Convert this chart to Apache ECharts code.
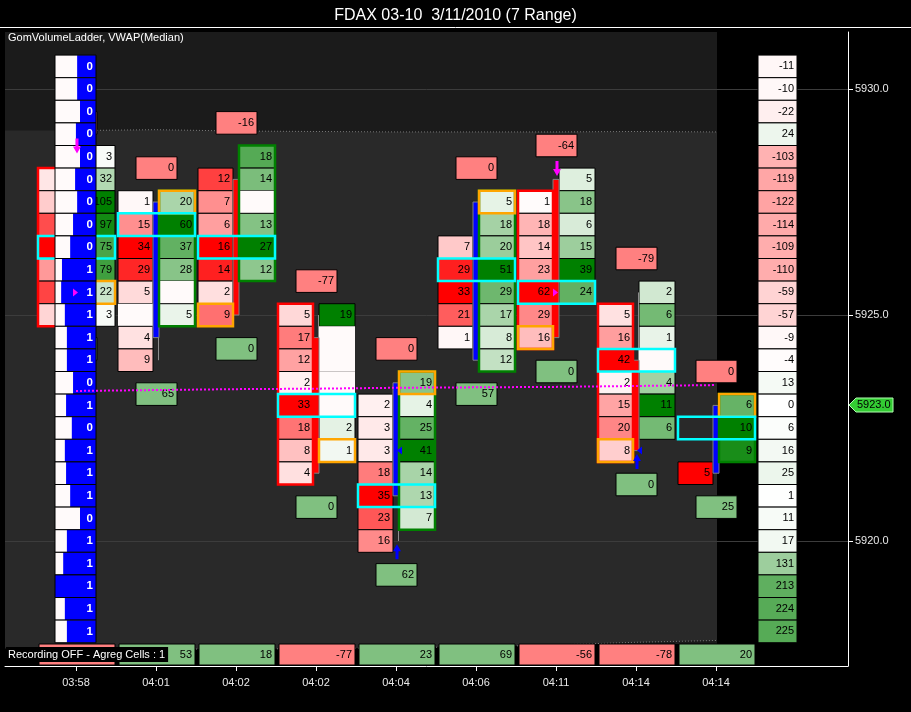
<!DOCTYPE html>
<html>
<head>
<meta charset="utf-8">
<title>FDAX 03-10 GomVolumeLadder</title>
<script src="https://cdn.jsdelivr.net/npm/echarts@6/dist/echarts.min.js"></script>
<style>
html, body { margin: 0; padding: 0; background: #000; }
#main { width: 911px; height: 712px; }
</style>
</head>
<body>
<div id="main"></div>
<script>
var times = ['03:58', '04:01', '04:02', '04:02', '04:04', '04:06', '04:11', '04:14', '04:14'];
var priceTicks = [5920, 5925, 5930];
var tick = 0.5;

// footprint: bid / ask volume per price row, from the top row down
var bidTop = [5928.0, 5927.5, 5928.0, 5925.0, 5923.0, 5926.5, 5927.5, 5925.0, 5921.5];
var bidVol = [
    [3, 6, 21, 30, 12, 22, 5],
    [1, 15, 34, 29, 5, 0, 4, 9],
    [12, 7, 6, 16, 14, 2, 9],
    [5, 17, 12, 2, 33, 18, 8, 4],
    [2, 3, 3, 18, 35, 23, 16],
    [7, 29, 33, 21, 1],
    [1, 18, 14, 23, 62, 29, 16],
    [5, 16, 42, 2, 15, 20, 8],
    [5]
];
var askTop = [5928.5, 5927.5, 5928.5, 5925.0, 5923.5, 5927.5, 5928.0, 5925.5, 5923.0];
var askVol = [
    [3, 32, 105, 97, 75, 79, 22, 3],
    [20, 60, 37, 28, 0, 5],
    [18, 14, 0, 13, 27, 12],
    [19, 0, 0, 0, 0, 2, 1],
    [19, 4, 25, 41, 14, 13, 7],
    [5, 18, 20, 51, 29, 17, 8, 12],
    [5, 18, 6, 15, 39, 24],
    [2, 6, 1, 0, 4, 11, 6],
    [6, 10, 9]
];
var pocPrice = [5926.5, 5927.0, 5926.5, 5923.0, 5921.0, 5926.0, 5925.5, 5924.0, 5922.5];
var hiliteSide = ['ask', 'ask', 'bid', 'ask', 'ask', 'ask', 'bid', 'bid', 'ask'];
var hilitePrice = [5925.5, 5927.5, 5925.0, 5922.0, 5923.5, 5927.5, 5924.5, 5922.0, 5923.0];
var frameSide = ['bid', 'ask', 'ask', 'bid', 'ask', 'ask', 'bid', 'bid', 'ask'];

var candleOpen = [5928.5, 5924.5, 5928.0, 5924.5, 5921.0, 5924.0, 5928.0, 5924.0, 5921.5];
var candleClose = [5925.0, 5927.5, 5925.0, 5921.5, 5923.5, 5927.5, 5924.5, 5922.0, 5923.0];
var candleHigh = [5928.5, 5927.5, 5928.5, 5925.0, 5923.5, 5927.5, 5928.0, 5925.5, 5923.0];
var candleLow = [5925.0, 5924.0, 5925.0, 5921.5, 5920.0, 5924.0, 5924.5, 5922.0, 5921.5];

var deltaHiPrice = [5929.25, 5928.25, 5929.25, 5925.75, 5924.25, 5928.25, 5928.75, 5926.25, 5923.75];
var deltaHi = [0, 0, -16, -77, 0, 0, -64, -79, 0];
var deltaLoPrice = [5924.25, 5923.25, 5924.25, 5920.75, 5919.25, 5923.25, 5923.75, 5921.25, 5920.75];
var deltaLo = [0, 65, 0, 0, 62, 57, 0, 0, 25];
var barDelta = [-30, 53, 18, -77, 23, 69, -56, -78, 20];

var vwap = [5923.32, 5923.34, 5923.36, 5923.37, 5923.39, 5923.40, 5923.41, 5923.43, 5923.45];
var bandUpper = [5929.08, 5929.10, 5929.07, 5929.06, 5929.05, 5929.05, 5929.05, 5929.06, 5929.05];
var bandLower = [5917.62, 5917.61, 5917.61, 5917.62, 5917.64, 5917.66, 5917.70, 5917.76, 5917.80];

// volume ladder drawn over the first bar
var ladderTop = 5930.5;
var ladderVol = [0, 0, 0, 0, 0, 0, 0, 0, 0, 1, 1, 1, 1, 1, 0, 1, 0, 1, 1, 1, 0, 1, 1, 1, 1, 1];
var ladderRatio = [0.46, 0.46, 0.39, 0.49, 0.39, 0.51, 0.46, 0.56, 0.63, 0.83, 0.85, 0.76, 0.71,
    0.71, 0.56, 0.73, 0.59, 0.76, 0.73, 0.63, 0.39, 0.71, 0.80, 1.0, 0.76, 0.71];

// delta profile on the right
var profileTop = 5930.5;
var profileDelta = [-11, -10, -22, 24, -103, -119, -122, -114, -109, -110, -59, -57, -9, -4,
    13, 0, 6, 16, 25, 1, 11, 17, 131, 213, 224, 225];
var profileScale = 340;
var lastPrice = 5923.0;

// signal markers
var arrowBar = [0, 6, 4, 7];
var arrowPrice = [5928.75, 5928.25, 5919.75, 5921.75];
var arrowUp = [false, false, true, true];
var triBar = [0, 6, 4, 7];
var triPrice = [5925.5, 5925.5, 5922.0, 5922.0];
var triRight = [true, true, false, false];

var FONT = '"Liberation Sans", Arial, sans-serif';

function mixRed(t) {
    var g = Math.round(255 * (1 - Math.min(t, 1)));
    return 'rgb(255,' + g + ',' + g + ')';
}
function mixGreen(t) {
    t = Math.min(t, 1);
    var r = Math.round(255 * (1 - t));
    var g = Math.round(255 * (1 - t) + 128 * t);
    return 'rgb(' + r + ',' + g + ',' + r + ')';
}
function rectEl(x0, y0, x1, y1, fill, stroke, lw) {
    return {
        type: 'rect',
        shape: { x: x0, y: y0, width: x1 - x0, height: y1 - y0 },
        style: { fill: fill, stroke: stroke || null, lineWidth: lw || 1 }
    };
}
function textEl(x, y, s, color, bold, size) {
    return {
        type: 'text',
        style: {
            x: x, y: y, text: String(s), fill: color || '#000',
            font: (bold ? 'bold ' : '') + (size || 11) + 'px ' + FONT,
            align: 'right', verticalAlign: 'middle'
        }
    };
}

function renderPanel(params, api) {
    var cs = params.coordSys;
    var left = cs.x, right = Math.round(api.coord([8, 0])[0]) + 1;
    var bottom = cs.y + cs.height - 22;
    var up = [[left, api.coord([0, bandUpper[0]])[1]]], lo = [];
    for (var i = 0; i < bandUpper.length; i++) {
        up.push(api.coord([i, bandUpper[i]]));
        lo.push(api.coord([i, bandLower[i]]));
    }
    up.push([right, up[up.length - 1][1]]);
    lo.unshift([left, lo[0][1]]);
    lo.push([right, lo[lo.length - 1][1]]);
    var poly = up.concat(lo.slice().reverse());
    var kids = [rectEl(left, cs.y, right, bottom, '#1b1b1b')];
    kids.push({ type: 'polygon', shape: { points: poly }, style: { fill: '#292929' } });
    priceTicks.forEach(function (p) {
        var y = Math.round(api.coord([0, p])[1]) + 0.5;
        kids.push({ type: 'line', shape: { x1: left, y1: y, x2: cs.x + cs.width, y2: y },
            style: { stroke: '#3c3c3c', lineWidth: 1 } });
    });
    kids.push({ type: 'polyline', shape: { points: up.slice(1) }, style: { stroke: '#7a7a7a', lineWidth: 1, lineDash: [1, 2], fill: null } });
    kids.push({ type: 'polyline', shape: { points: lo.slice(1) }, style: { stroke: '#7a7a7a', lineWidth: 1, lineDash: [1, 2], fill: null } });
    return { type: 'group', children: kids };
}

function renderBar(params, api) {
    var i = params.dataIndex;
    var cs = params.coordSys;
    var c = Math.round(api.coord([i, 0])[0]);
    var half = api.size([0, tick])[1] / 2;
    var y = function (p) { return api.coord([i, p])[1]; };
    var kids = [];
    var bx0 = c - 38, bx1 = c - 3, ax0 = c + 3, ax1 = c + 39;

    // delta boxes above and below the bar
    kids.push(rectEl(c - 20, y(deltaHiPrice[i]) - half, c + 21, y(deltaHiPrice[i]) + half, '#ff8080', '#000'));
    kids.push(textEl(c + 18, y(deltaHiPrice[i]), deltaHi[i]));
    kids.push(rectEl(c - 20, y(deltaLoPrice[i]) - half, c + 21, y(deltaLoPrice[i]) + half, '#80c080', '#000'));
    kids.push(textEl(c + 18, y(deltaLoPrice[i]), deltaLo[i]));

    function column(top, vols, x0, x1, mix) {
        var max = Math.max.apply(null, vols);
        vols.forEach(function (v, k) {
            var yc = y(top - k * tick);
            kids.push(rectEl(x0, yc - half, x1, yc + half, v ? mix(v / max) : '#fffafa', v ? '#000' : null));
            if (v) kids.push(textEl(x1 - 3, yc, v));
        });
    }
    column(bidTop[i], bidVol[i], bx0, bx1, mixRed);
    column(askTop[i], askVol[i], ax0, ax1, mixGreen);

    // candle
    kids.push({ type: 'line', shape: { x1: c + 2.5, y1: y(candleHigh[i]), x2: c + 2.5, y2: y(candleLow[i]) },
        style: { stroke: '#8c8c8c', lineWidth: 1 } });
    var yo = y(candleOpen[i]), yc2 = y(candleClose[i]);
    kids.push(rectEl(c - 3, Math.min(yo, yc2), c + 3, Math.max(yo, yc2),
        candleClose[i] < candleOpen[i] ? '#ff0000' : '#0000ff', '#808080'));

    // column frame
    if (frameSide[i] === 'bid') {
        kids.push(rectEl(bx0, y(bidTop[i]) - half, bx1,
            y(bidTop[i] - (bidVol[i].length - 1) * tick) + half, 'none', '#ff0000', 2.5));
    } else {
        kids.push(rectEl(ax0, y(askTop[i]) - half, ax1,
            y(askTop[i] - (askVol[i].length - 1) * tick) + half, 'none', '#008000', 2.5));
    }
    // highlighted cell
    var hy = y(hilitePrice[i]);
    if (hiliteSide[i] === 'bid') kids.push(rectEl(bx0, hy - half, bx1, hy + half, 'none', '#ffa500', 2.5));
    else kids.push(rectEl(ax0, hy - half, ax1, hy + half, 'none', '#ffa500', 2.5));
    // point of control
    var py = y(pocPrice[i]);
    kids.push(rectEl(bx0, py - half, ax1, py + half, 'none', '#00ffff', 2.5));

    // bar delta at the bottom
    var by = cs.y + cs.height;
    kids.push(rectEl(c - 37, by - 22, c + 39, by - 1, barDelta[i] < 0 ? '#ff8080' : '#80c080', '#000'));
    kids.push(textEl(c + 36, by - 11.5, barDelta[i]));
    return { type: 'group', children: kids };
}

function renderLadder(params, api) {
    var c = Math.round(api.coord([0, 0])[0]);
    var half = api.size([0, tick])[1] / 2;
    var x0 = c - 21, x1 = c + 20, kids = [];
    ladderVol.forEach(function (v, k) {
        var yc = api.coord([0, ladderTop - k * tick])[1];
        kids.push(rectEl(x0, yc - half, x1, yc + half, '#fffafa'));
        kids.push(rectEl(x1 - ladderRatio[k] * (x1 - x0), yc - half, x1, yc + half, '#0000ff'));
        kids.push(rectEl(x0, yc - half, x1, yc + half, 'none', '#000'));
        kids.push(textEl(x1 - 3, yc, v, '#fff', true, 11.5));
    });
    return { type: 'group', children: kids };
}

function renderProfile(params, api) {
    var cs = params.coordSys;
    var c = Math.round(api.coord([8, 0])[0]);
    var half = api.size([0, tick])[1] / 2;
    var x0 = c + 42, x1 = c + 81, kids = [];
    profileDelta.forEach(function (v, k) {
        var yc = api.coord([8, profileTop - k * tick])[1];
        var t = Math.abs(v) / profileScale;
        kids.push(rectEl(x0, yc - half, x1, yc + half, v < 0 ? mixRed(t) : mixGreen(t), '#000'));
        kids.push(textEl(x1 - 3, yc, v));
    });
    var ax = cs.x + cs.width, ly = Math.round(api.coord([8, lastPrice])[1]);
    kids.push({ type: 'polygon', shape: { points: [[ax + 1, ly], [ax + 8, ly - 7], [ax + 45, ly - 7], [ax + 45, ly + 7], [ax + 8, ly + 7]] },
        style: { fill: '#33cc33', stroke: '#b0ffb0', lineWidth: 1 } });
    kids.push({ type: 'text', style: { x: ax + 9, y: ly, text: lastPrice.toFixed(1), fill: '#000',
        font: '11px ' + FONT, align: 'left', verticalAlign: 'middle' } });
    return { type: 'group', children: kids };
}

function renderMarkers(params, api) {
    var kids = [];
    arrowBar.forEach(function (b, k) {
        var p = api.coord([b, arrowPrice[k]]);
        var x = Math.round(p[0]) + 1, yc = p[1], s = arrowUp[k] ? -1 : 1;
        kids.push({ type: 'polygon', shape: { points: [
            [x - 1.5, yc - 7 * s], [x + 1.5, yc - 7 * s], [x + 1.5, yc + s], [x + 4, yc + s],
            [x, yc + 8 * s], [x - 4, yc + s], [x - 1.5, yc + s]] },
            style: { fill: arrowUp[k] ? '#0000ff' : '#ff00ff' } });
    });
    triBar.forEach(function (b, k) {
        var p = api.coord([b, triPrice[k]]);
        var x = Math.round(p[0]), yc = p[1];
        var pts = triRight[k] ? [[x - 3, yc - 4], [x + 2, yc], [x - 3, yc + 4]]
            : [[x + 6, yc - 4], [x + 1, yc], [x + 6, yc + 4]];
        kids.push({ type: 'polygon', shape: { points: pts },
            style: { fill: triRight[k] ? '#ff00ff' : '#0000ff' } });
    });
    return { type: 'group', children: kids };
}

var myChart = echarts.init(document.getElementById('main'));
var barIdx = times.map(function (t, i) { return [i, vwap[i]]; });

option = {
    backgroundColor: '#000',
    animation: false,
    title: {
        text: 'FDAX 03-10  3/11/2010 (7 Range)',
        left: 'center',
        top: 3,
        textStyle: { color: '#fff', fontSize: 16, fontWeight: 'normal', fontFamily: FONT }
    },
    grid: { left: 5, right: 63, top: 32, bottom: 46, containLabel: false, outerBoundsMode: 'none' },
    xAxis: {
        type: 'value',
        min: -0.8875,
        max: 9.65,
        axisLine: { onZero: false, lineStyle: { color: '#fff', width: 1 } },
        axisTick: { customValues: [0, 1, 2, 3, 4, 5, 6, 7, 8], length: 5, lineStyle: { color: '#fff' } },
        axisLabel: {
            customValues: [0, 1, 2, 3, 4, 5, 6, 7, 8],
            formatter: function (v) { return times[Math.round(v)]; },
            color: '#e8e8e8', fontSize: 11, fontFamily: FONT, margin: 11
        },
        splitLine: { show: false }
    },
    yAxis: {
        type: 'value',
        position: 'right',
        min: 5917.235,
        max: 5931.261,
        axisLine: { show: true, onZero: false, lineStyle: { color: '#fff', width: 1 } },
        axisTick: { show: true, customValues: priceTicks, length: 5, lineStyle: { color: '#fff' } },
        axisLabel: {
            customValues: priceTicks,
            formatter: function (v) { return v.toFixed(1); },
            color: '#e8e8e8', fontSize: 11, fontFamily: FONT, margin: 7
        },
        splitLine: { show: false }
    },
    graphic: [
        { type: 'line', shape: { x1: 0, y1: 27.5, x2: 911, y2: 27.5 }, style: { stroke: '#fff', lineWidth: 1 }, z: 100 },
        { type: 'text', x: 8, y: 38, style: { text: 'GomVolumeLadder, VWAP(Median)', fill: '#fff', font: '11px ' + FONT, verticalAlign: 'middle' }, z: 100 },
        { type: 'text', x: 6, y: 654.5, style: { text: 'Recording OFF - Agreg Cells : 1', fill: '#fff', font: '11px ' + FONT,
            verticalAlign: 'middle', backgroundColor: '#000', padding: [2, 3, 2, 2] }, z: 100 }
    ],
    series: [
        { type: 'custom', z: 0, silent: true, renderItem: renderPanel, data: [[0, 5925]] },
        { type: 'custom', z: 2, silent: true, renderItem: renderBar, data: barIdx },
        { type: 'custom', z: 3, silent: true, renderItem: renderLadder, data: [[0, ladderTop]] },
        { type: 'custom', z: 2, silent: true, renderItem: renderProfile, data: [[8, profileTop]] },
        {
            type: 'line', z: 4, silent: true, symbol: 'none', data: barIdx,
            lineStyle: { color: '#ff00ff', width: 2, type: [2, 2] }
        },
        { type: 'custom', z: 5, silent: true, renderItem: renderMarkers, data: [[0, 5925]] }
    ]
};

myChart.setOption(option);
</script>
</body>
</html>
